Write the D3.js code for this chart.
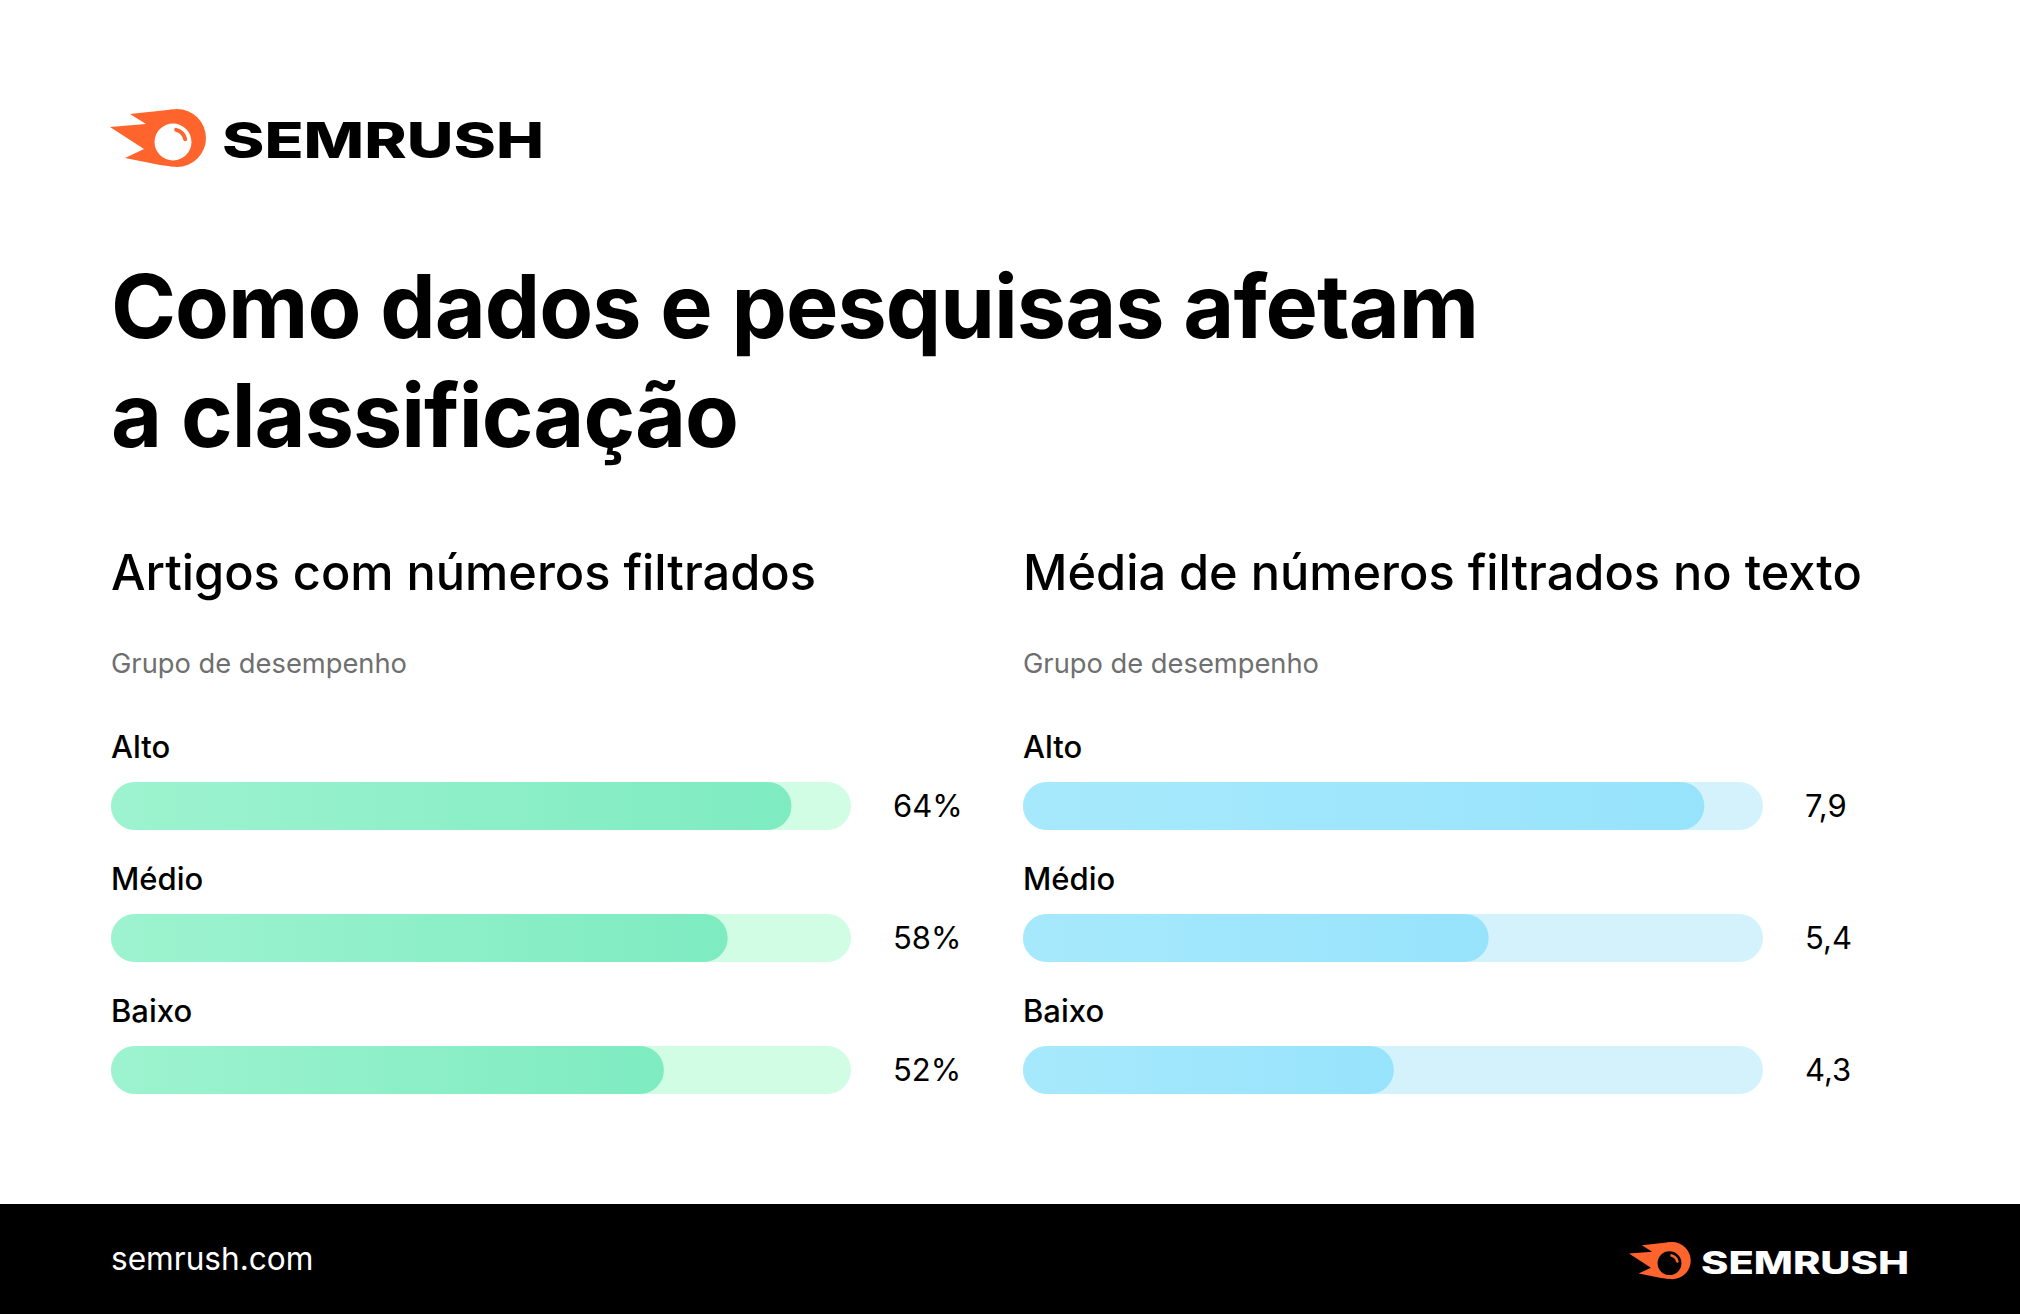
<!DOCTYPE html>
<html>
<head>
<meta charset="utf-8">
<script src="https://cdn.jsdelivr.net/npm/d3@7"></script>
<style>
  html, body { margin: 0; padding: 0; background: #fff; }
  svg { display: block; }
  text { font-family: Inter, "Noto Sans", sans-serif; }
</style>
</head>
<body>
<svg id="chart" width="2020" height="1314"></svg>
<script>
// ---- data ----
const titleLines = ["Como dados e pesquisas afetam", "a classificação"];
const groups = ["Alto", "Médio", "Baixo"];
const leftTitle = "Artigos com números filtrados";
const rightTitle = "Média de números filtrados no texto";
const axisCaption = "Grupo de desempenho";
const pctValues = [64, 58, 52];
const pctLabels = ["64%", "58%", "52%"];
const avgValues = [7.9, 5.4, 4.3];
const avgLabels = ["7,9", "5,4", "4,3"];
const pctDomain = [0, 69.6];
const avgDomain = [0, 8.58];

// ---- drawing ----
const W = 2020, H = 1314;
const svg = d3.select("#chart");
svg.append("rect").attr("width", W).attr("height", H).attr("fill", "#ffffff");

const defs = svg.append("defs");
function grad(id, c0, c1) {
  const g = defs.append("linearGradient").attr("id", id)
    .attr("x1", "0%").attr("x2", "100%").attr("y1", "0%").attr("y2", "0%");
  g.append("stop").attr("offset", "0%").attr("stop-color", c0);
  g.append("stop").attr("offset", "100%").attr("stop-color", c1);
}
grad("gGreen", "#9df3cf", "#7eebc1");
grad("gBlue", "#a7e9fc", "#97e3fc");

// Logo
function logo(g, scale, textColor, innerColor, textWidth) {
  const icon = g.append("g").attr("transform", `scale(${scale})`);
  icon.append("path")
    .attr("d", "M20,5 L62,0.5 L62,57.5 L50,56 L15,49 L34,40 L0,18 L36,15 Z")
    .attr("fill", "#ff642d");
  icon.append("circle").attr("cx", 67).attr("cy", 29).attr("r", 29).attr("fill", "#ff642d");
  icon.append("circle").attr("cx", 63).attr("cy", 33).attr("r", 18.5).attr("fill", innerColor);
  icon.append("path")
    .attr("transform", "translate(63,33)")
    .attr("d", d3.arc().innerRadius(10.5).outerRadius(14.5).startAngle(0.1).endAngle(1.5).cornerRadius(1.9)())
    .attr("fill", "#ff642d");
  g.append("text")
    .attr("x", 112 * scale).attr("y", 49 * scale)
    .attr("font-size", 49 * scale).attr("font-weight", 800)
    .attr("fill", textColor)
    .attr("textLength", textWidth).attr("lengthAdjust", "spacingAndGlyphs")
    .text("SEMRUSH");
}
logo(svg.append("g").attr("transform", "translate(110,109)"), 1, "#000", "#fff", 322);

// Title
svg.append("g").selectAll("text").data(titleLines).join("text")
  .attr("x", 111)
  .attr("y", (d, i) => 338 + i * 109)
  .attr("font-size", 88).attr("font-weight", 700)
  .attr("letter-spacing", -1)
  .attr("fill", "#000")
  .text(d => d);

// Panels
const barW = 740, barH = 48;
const rowY = d3.scalePoint().domain(groups).range([806, 1070]);

function panel(x0, title, values, labels, domain, gradId, trackColor) {
  const g = svg.append("g").attr("transform", `translate(${x0},0)`);
  const x = d3.scaleLinear().domain(domain).range([0, barW]);
  g.append("text").attr("x", 0).attr("y", 590)
    .attr("font-size", 48.7).attr("font-weight", 500).attr("fill", "#000")
    .text(title);
  g.append("text").attr("x", 0).attr("y", 673)
    .attr("font-size", 27.3).attr("font-weight", 400).attr("fill", "#6f6f6f")
    .text(axisCaption);
  const rows = g.selectAll("g.row").data(groups).join("g").attr("class", "row");
  rows.append("text")
    .attr("x", 0).attr("y", d => rowY(d) - 48)
    .attr("font-size", 31).attr("font-weight", 500).attr("fill", "#000")
    .text(d => d);
  rows.append("rect")
    .attr("x", x(domain[0])).attr("y", d => rowY(d) - barH / 2)
    .attr("width", barW).attr("height", barH)
    .attr("rx", barH / 2).attr("fill", trackColor);
  rows.append("rect")
    .attr("x", x(domain[0])).attr("y", d => rowY(d) - barH / 2)
    .attr("width", (d, i) => x(values[i]) - x(domain[0])).attr("height", barH)
    .attr("rx", barH / 2).attr("fill", `url(#${gradId})`);
  rows.append("text")
    .attr("x", 782).attr("y", d => rowY(d) + 11)
    .attr("font-size", 31).attr("font-weight", 400).attr("fill", "#000")
    .text((d, i) => labels[i]);
}
panel(111, leftTitle, pctValues, pctLabels, pctDomain, "gGreen", "#d0fde3");
panel(1023, rightTitle, avgValues, avgLabels, avgDomain, "gBlue", "#d4f2fb");

// Footer
svg.append("rect").attr("x", 0).attr("y", 1204).attr("width", W).attr("height", H - 1204).attr("fill", "#000");
svg.append("text").attr("x", 111).attr("y", 1270)
  .attr("font-size", 31.6).attr("font-weight", 400).attr("fill", "#fff")
  .text("semrush.com");
logo(svg.append("g").attr("transform", "translate(1629,1242)"), 0.643, "#fff", "#000", 208);
</script>
</body>
</html>
